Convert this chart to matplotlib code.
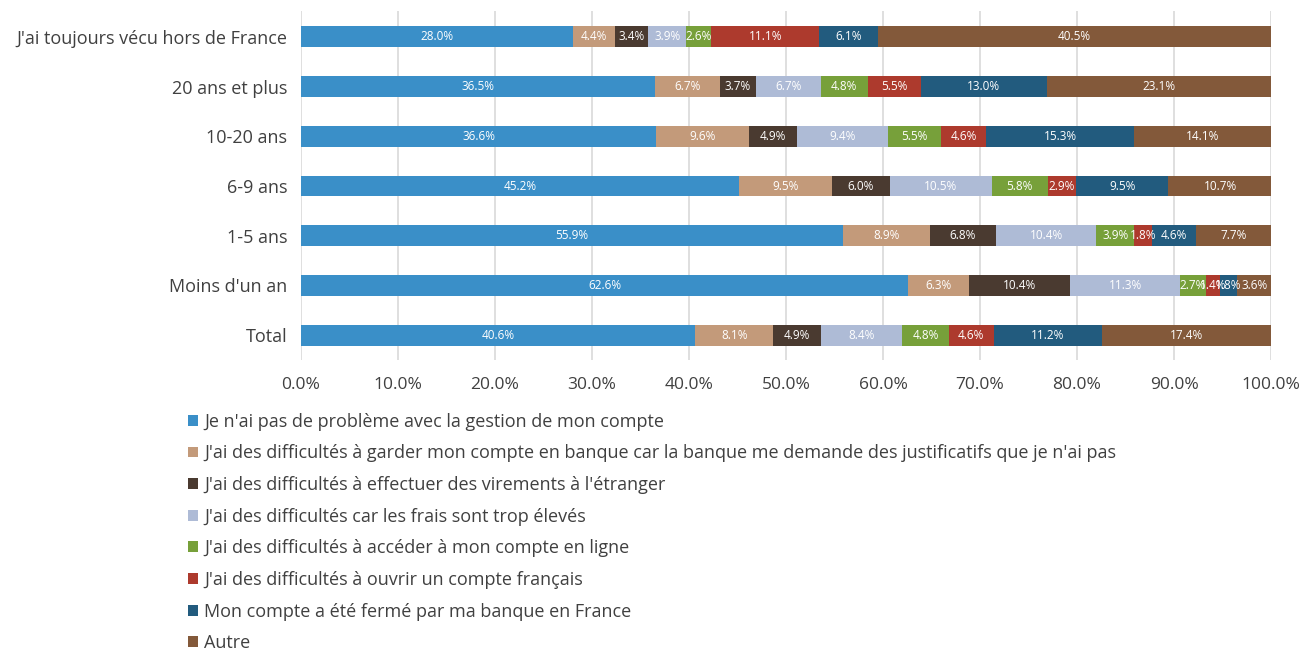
import numpy as np
import matplotlib.pyplot as plt
from matplotlib.patches import Patch

plt.rcParams['font.family'] = ['Open Sans', 'DejaVu Sans']

categories = ["J'ai toujours vécu hors de France", "20 ans et plus", "10-20 ans",
              "6-9 ans", "1-5 ans", "Moins d'un an", "Total"]

series_names = [
    "Je n'ai pas de problème avec la gestion de mon compte",
    "J'ai des difficultés à garder mon compte en banque car la banque me demande des justificatifs que je n'ai pas",
    "J'ai des difficultés à effectuer des virements à l'étranger",
    "J'ai des difficultés car les frais sont trop élevés",
    "J'ai des difficultés à accéder à mon compte en ligne",
    "J'ai des difficultés à ouvrir un compte français",
    "Mon compte a été fermé par ma banque en France",
    "Autre",
]

pas_de_probleme = [28.0, 36.5, 36.6, 45.2, 55.9, 62.6, 40.6]
garder_compte = [4.4, 6.7, 9.6, 9.5, 8.9, 6.3, 8.1]
virements = [3.4, 3.7, 4.9, 6.0, 6.8, 10.4, 4.9]
frais = [3.9, 6.7, 9.4, 10.5, 10.4, 11.3, 8.4]
en_ligne = [2.6, 4.8, 5.5, 5.8, 3.9, 2.7, 4.8]
ouvrir = [11.1, 5.5, 4.6, 2.9, 1.8, 1.4, 4.6]
ferme = [6.1, 13.0, 15.3, 9.5, 4.6, 1.8, 11.2]
autre = [40.5, 23.1, 14.1, 10.7, 7.7, 3.6, 17.4]

series = [pas_de_probleme, garder_compte, virements, frais, en_ligne, ouvrir, ferme, autre]
colors = ["#3a8fc8", "#c39a7a", "#4a3a30", "#aebbd6", "#77a03a", "#ad3a2d", "#225b7e", "#83593a"]

fig = plt.figure(figsize=(13.03, 6.51), dpi=100)
ax = fig.add_axes([0.231, 0.447, 0.7445, 0.536])

y = np.arange(len(categories))
left = np.zeros(len(categories))
for vals, col in zip(series, colors):
    vals = np.array(vals)
    ax.barh(y, vals, left=left, height=0.42, color=col, zorder=3)
    for yi, l, v in zip(y, left, vals):
        ax.text(l + v / 2, yi, f"{v:.1f}%", ha="center", va="center",
                color="white", fontsize=8.5, zorder=4)
    left = left + vals

ax.set_xlim(0, 100)
ax.set_ylim(6.5, -0.52)
ax.set_xticks(np.arange(0, 101, 10))
ax.set_xticklabels([f"{t:.1f}%" for t in np.arange(0, 101, 10)], fontsize=12.5, color="#404040")
ax.set_yticks(y)
ax.set_yticklabels(categories, fontsize=13, color="#404040")
ax.tick_params(length=0, pad=10, axis="y")
ax.tick_params(length=0, pad=12, axis="x")
ax.grid(axis="x", color="#d9d9d9", linewidth=1.2, zorder=0)
for s in ax.spines.values():
    s.set_visible(False)

handles = [Patch(facecolor=c, edgecolor="none") for c in colors]
fig.legend(handles, series_names, loc="upper left", bbox_to_anchor=(0.132, 0.391),
           frameon=False, fontsize=13, handlelength=0.55, handleheight=0.55,
           handletextpad=0.35, labelspacing=0.755, labelcolor="#404040")

plt.savefig("out.png", dpi=100)
